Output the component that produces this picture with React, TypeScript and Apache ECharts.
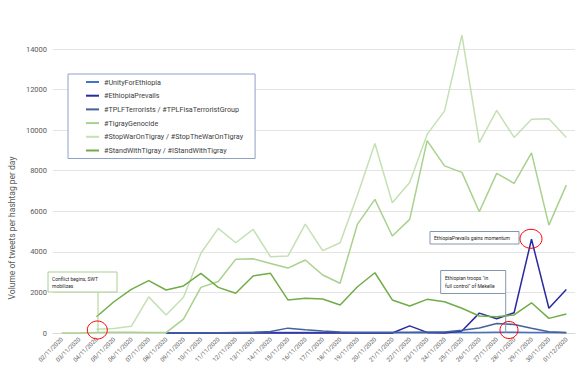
import React, { useEffect, useRef } from 'react';
import * as echarts from 'echarts';

const categories = [
  '02/11/2020', '03/11/2020', '04/11/2020', '05/11/2020', '06/11/2020', '07/11/2020',
  '08/11/2020', '09/11/2020', '10/11/2020', '11/11/2020', '12/11/2020', '13/11/2020',
  '14/11/2020', '15/11/2020', '16/11/2020', '17/11/2020', '18/11/2020', '19/11/2020',
  '20/11/2020', '21/11/2020', '22/11/2020', '23/11/2020', '24/11/2020', '25/11/2020',
  '26/11/2020', '27/11/2020', '28/11/2020', '29/11/2020', '30/11/2020', '01/12/2020',
];

const seriesNames = [
  '#UnityForEthiopia',
  '#EthiopiaPrevails',
  '#TPLFTerrorists / #TPLFisaTerroristGroup',
  '#TigrayGenocide',
  '#StopWarOnTigray / #StopTheWarOnTigray',
  '#StandWithTigray / #IStandWithTigray',
];

const unityForEthiopia = [
  null, null, null, null, null, null,
  0, 0, 0, 10, 10, 20, 20, 30, 30, 20, 20, 10,
  10, 10, 10, 10, 20, 20, 30, 40, 40, 30, 20, 10,
];
const ethiopiaPrevails = [
  null, null, null, null, null, null,
  0, 0, 0, 0, 0, 0, 0, 0, 0, 0, 0, 0,
  0, 0, 350, 30, 0, 100, 980, 700, 1000, 4620, 1220, 2150,
];
const tplfTerrorists = [
  null, null, null, null, null, null,
  0, 0, 0, 10, 20, 30, 70, 240, 160, 100, 50, 40,
  40, 40, 40, 50, 50, 130, 250, 470, 420, 230, 60, 20,
];
const tigrayGenocide = [
  0, 0, 20, 40, 40, 30, 20, 680, 2250, 2540, 3630, 3660,
  3430, 3200, 3600, 2860, 2450, 5370, 6590, 4780, 5600, 9480, 8240, 7920,
  5980, 7870, 7380, 8880, 5320, 7290,
];
const stopWarOnTigray = [
  null, null, 180, 220, 330, 1780, 890, 1760, 3930, 5160, 4450, 5110,
  3760, 3790, 5370, 4060, 4450, 6800, 9340, 6420, 7420, 9790, 10940, 14680,
  9380, 10970, 9640, 10540, 10560, 9640,
];
const standWithTigray = [
  null, null, 800, 1540, 2150, 2580, 2120, 2320, 2940, 2250, 1960, 2810,
  2940, 1630, 1710, 1680, 1380, 2280, 2970, 1630, 1330, 1660, 1540, 1220,
  840, 800, 890, 1490, 720, 940,
];

const seriesData = [
  unityForEthiopia, ethiopiaPrevails, tplfTerrorists,
  tigrayGenocide, stopWarOnTigray, standWithTigray,
];
const seriesColors = ['#4472C4', '#2A2AA0', '#44619E', '#A9D18E', '#C5E0B4', '#70AD47'];

const yMax = 14000;
const yInterval = 2000;

export default function App() {
  const ref = useRef<HTMLDivElement>(null);

  useEffect(() => {
    if (!ref.current) return;
    const chart = echarts.init(ref.current, null, { renderer: 'svg' });
    const font = 'Roboto, "Liberation Sans", sans-serif';

    const series = seriesNames.map((name, i) => ({
      name,
      type: 'line',
      data: seriesData[i],
      symbol: 'none',
      showSymbol: false,
      clip: false,
      connectNulls: false,
      lineStyle: { color: seriesColors[i], width: 1.5 },
      itemStyle: { color: seriesColors[i] },
      emphasis: { disabled: true },
      z: 2,
    }));

    chart.setOption({
      animation: false,
      textStyle: { fontFamily: font },
      grid: { left: 53, right: 5, top: 49, bottom: 48 },
      xAxis: {
        type: 'category',
        data: categories,
        boundaryGap: true,
        axisLine: { lineStyle: { color: '#D9D9D9', width: 1 } },
        axisTick: { show: false },
        axisLabel: {
          rotate: 45,
          interval: 0,
          fontSize: 6,
          color: '#595959',
          margin: 5,
          fontFamily: font,
        },
      },
      yAxis: {
        type: 'value',
        min: 0,
        max: yMax,
        interval: yInterval,
        axisLine: { show: false },
        axisTick: { show: false },
        axisLabel: {
          fontSize: 7.5,
          color: '#595959',
          margin: 6,
          fontFamily: font,
          formatter: (v: number) => String(v),
        },
        splitLine: { lineStyle: { color: '#E4E4E4', width: 1 } },
      },
      legend: {
        data: seriesNames,
        orient: 'vertical',
        left: 68,
        top: 74,
        padding: [3, 12, 3, 18],
        itemWidth: 13,
        itemHeight: 2,
        itemGap: 3.7,
        icon: 'rect',
        backgroundColor: '#ffffff',
        borderColor: '#8EA2C6',
        borderWidth: 1,
        borderRadius: 0,
        selectedMode: false,
        textStyle: { fontSize: 7.2, color: '#404040', lineHeight: 10, fontFamily: font },
      },
      series,
      graphic: [
        {
          type: 'text',
          x: 12,
          y: 228,
          rotation: Math.PI / 2,
          style: {
            text: 'Volume of tweets per hashtag per day',
            fontSize: 8.5,
            fill: '#595959',
            align: 'center',
            verticalAlign: 'middle',
            fontFamily: font,
          },
        },
        // Callout 1
        {
          type: 'line',
          shape: { x1: 98, y1: 292, x2: 98, y2: 333 },
          style: { stroke: '#A9D18E', lineWidth: 1 },
          z: 10,
        },
        {
          type: 'rect',
          shape: { x: 48, y: 272, width: 69, height: 20 },
          style: { fill: '#ffffff', stroke: '#A9D18E', lineWidth: 1 },
          z: 10,
        },
        {
          type: 'text',
          x: 52,
          y: 275,
          style: {
            text: 'Conflict begins, SWT\nmobilizes',
            fontSize: 5,
            lineHeight: 7,
            fill: '#262626',
            fontFamily: font,
          },
          z: 11,
        },
        {
          type: 'ellipse',
          shape: { cx: 97.3, cy: 330, rx: 10, ry: 9 },
          style: { fill: 'none', stroke: '#FF0000', lineWidth: 1 },
          z: 12,
        },
        // Callout 2
        {
          type: 'line',
          shape: { x1: 505.7, y1: 293.5, x2: 505.7, y2: 333 },
          style: { stroke: '#8497B0', lineWidth: 1 },
          z: 10,
        },
        {
          type: 'rect',
          shape: { x: 440.7, y: 270.5, width: 65, height: 23 },
          style: { fill: '#ffffff', stroke: '#8497B0', lineWidth: 1 },
          z: 10,
        },
        {
          type: 'text',
          x: 445,
          y: 273.5,
          style: {
            text: 'Ethiopian troops "in\nfull control" of Mekelle',
            fontSize: 5,
            lineHeight: 8,
            fill: '#262626',
            fontFamily: font,
          },
          z: 11,
        },
        {
          type: 'ellipse',
          shape: { cx: 509, cy: 330, rx: 9, ry: 8.5 },
          style: { fill: 'none', stroke: '#FF0000', lineWidth: 1 },
          z: 12,
        },
        // Callout 3
        {
          type: 'rect',
          shape: { x: 430, y: 231.5, width: 89, height: 12.5 },
          style: { fill: '#ffffff', stroke: '#8497B0', lineWidth: 1 },
          z: 10,
        },
        {
          type: 'text',
          x: 434,
          y: 237.8,
          style: {
            text: 'EthiopiaPrevails gains momentum',
            fontSize: 5,
            fill: '#262626',
            verticalAlign: 'middle',
            fontFamily: font,
          },
          z: 11,
        },
        {
          type: 'ellipse',
          shape: { cx: 531, cy: 238.8, rx: 11, ry: 9.5 },
          style: { fill: 'none', stroke: '#FF0000', lineWidth: 1 },
          z: 12,
        },
      ],
    });

    return () => {
      chart.dispose();
    };
  }, []);

  return (
    <div
      ref={ref}
      style={{ position: 'fixed', left: 0, top: 0, width: 580, height: 381, background: '#ffffff' }}
    />
  );
}
